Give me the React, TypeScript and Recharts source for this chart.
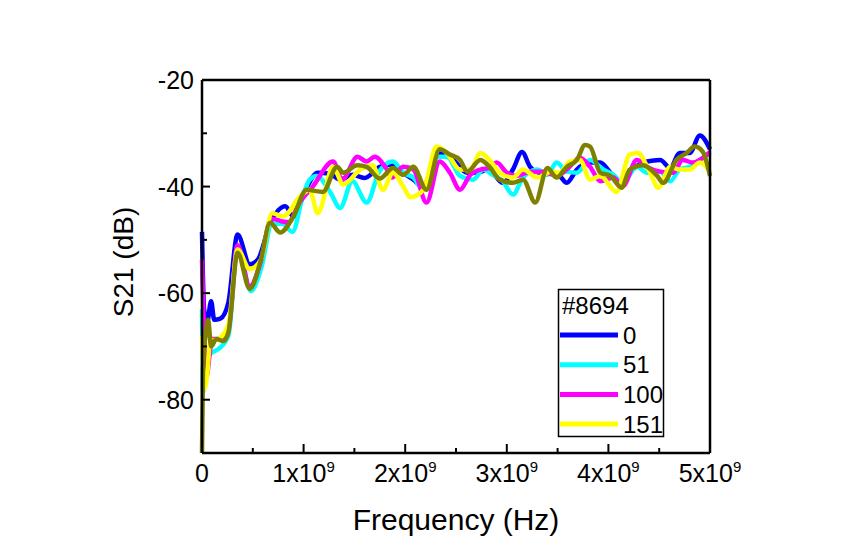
import React from 'react';
import { LineChart, Line, XAxis, YAxis, Label } from 'recharts';

// frequency in GHz, S21 in dB
const s0: [number, number][] = [
  [0, -48.5], [0.02, -63], [0.05, -65.5], [0.09, -61.5], [0.12, -65], [0.18, -64.8], [0.26, -61.7],
  [0.35, -49], [0.47, -54.6], [0.55, -53.7], [0.67, -47], [0.82, -43.7], [0.9, -45.6], [1.01, -41],
  [1.14, -37.4], [1.26, -37.6], [1.36, -38.7], [1.48, -37.8], [1.6, -38.4], [1.75, -36.3], [1.88, -35.8],
  [1.98, -37.4], [2.08, -38.7], [2.18, -40], [2.31, -33.7], [2.47, -35], [2.61, -37.4], [2.71, -37.4],
  [2.81, -36.8], [2.86, -37.4], [2.96, -39.3], [3.06, -36.8], [3.15, -33.5], [3.23, -36.3], [3.33, -37.4],
  [3.43, -37.4], [3.52, -38], [3.59, -39.3], [3.69, -36.8], [3.82, -35.5], [3.92, -35.5], [4.02, -37.4],
  [4.13, -39.6], [4.24, -36.8], [4.38, -35.3], [4.51, -35], [4.61, -36.5], [4.7, -33.7], [4.8, -33.7],
  [4.9, -30.4], [5.0, -33],
];
const s51: [number, number][] = [
  [0, -63], [0.01, -78.5], [0.04, -75], [0.08, -71.4], [0.16, -70.5], [0.26, -68], [0.35, -51.2],
  [0.48, -59.6], [0.58, -55.5], [0.69, -47], [0.79, -47], [0.89, -48.5], [0.99, -42], [1.06, -38.7],
  [1.13, -38], [1.26, -41], [1.36, -44], [1.48, -39], [1.62, -43], [1.75, -37], [1.88, -35.3],
  [1.98, -37.4], [2.08, -38.3], [2.18, -40.6], [2.31, -34.4], [2.41, -34.4], [2.54, -38], [2.67, -38.7],
  [2.77, -36.8], [2.86, -37.8], [2.96, -39], [3.06, -41.5], [3.16, -38.3], [3.3, -36.8], [3.4, -37.8],
  [3.49, -35.5], [3.59, -37.2], [3.69, -37.4], [3.82, -35], [3.95, -36.8], [4.05, -37.8], [4.14, -39.3],
  [4.28, -36.3], [4.38, -37.4], [4.51, -37.2], [4.61, -39], [4.7, -36.8], [4.8, -36.3], [4.9, -35],
  [5.0, -33.7],
];
const s100: [number, number][] = [
  [0, -53.7], [0.02, -68], [0.04, -76], [0.1, -68.6], [0.16, -68.6], [0.26, -66.8], [0.35, -51],
  [0.47, -58.7], [0.58, -54], [0.68, -46], [0.78, -46.5], [0.85, -46.7], [0.96, -43], [1.09, -40],
  [1.29, -35.3], [1.38, -38.7], [1.53, -34.4], [1.62, -35.3], [1.7, -34.4], [1.82, -36.8], [1.87, -38.3],
  [1.98, -36.3], [2.08, -36.8], [2.21, -43], [2.34, -35.3], [2.44, -37.4], [2.54, -40.6], [2.64, -37.8],
  [2.74, -36.8], [2.83, -36.5], [2.9, -35.5], [3.0, -37.4], [3.1, -38], [3.23, -37.2], [3.36, -37.2],
  [3.49, -38], [3.59, -36.8], [3.72, -34.6], [3.82, -36.3], [3.92, -39], [4.05, -38.3], [4.14, -40],
  [4.28, -35], [4.38, -36.3], [4.51, -37.2], [4.64, -37.4], [4.73, -35], [4.83, -35.5], [4.93, -34.6],
  [5.0, -33.5],
];
const s151: [number, number][] = [
  [0, -68], [0.02, -78], [0.05, -75.5], [0.08, -69], [0.16, -68.6], [0.26, -66], [0.35, -51.8],
  [0.47, -55.5], [0.58, -53.7], [0.69, -45], [0.8, -45.6], [0.96, -42], [1.06, -40.6], [1.14, -45],
  [1.29, -36.3], [1.39, -39.6], [1.56, -36.8], [1.68, -36], [1.78, -40.6], [1.88, -37.4], [1.98, -40],
  [2.05, -42], [2.18, -40.6], [2.31, -32.5], [2.41, -33.7], [2.54, -36.8], [2.64, -36.8], [2.74, -33.7],
  [2.83, -35], [2.93, -37.4], [3.06, -38.3], [3.16, -36.8], [3.3, -38.3], [3.43, -37.2], [3.52, -37.4],
  [3.62, -35.3], [3.72, -35], [3.82, -38.7], [3.92, -38], [4.08, -41], [4.21, -34], [4.29, -33.7],
  [4.41, -37.4], [4.49, -40.2], [4.61, -36.3], [4.7, -36.8], [4.8, -36.8], [4.9, -35.5], [5.0, -37.2],
];
const s200: [number, number][] = [
  [0, -90], [0.01, -74.4], [0.04, -67], [0.06, -65], [0.09, -70], [0.14, -68.6], [0.21, -69],
  [0.26, -67.3], [0.35, -52.4], [0.47, -59.2], [0.58, -53.7], [0.67, -46.8], [0.77, -48.6], [0.9, -45.6],
  [1.03, -40.6], [1.19, -41], [1.33, -36.3], [1.39, -37.4], [1.53, -36], [1.62, -36.3], [1.75, -38.5],
  [1.88, -36.5], [1.98, -37.8], [2.08, -36.3], [2.21, -40.6], [2.34, -33], [2.44, -34], [2.54, -35],
  [2.61, -37.2], [2.74, -35], [2.83, -36.3], [2.93, -38.7], [3.06, -39.3], [3.16, -38.7], [3.28, -43],
  [3.4, -36.5], [3.49, -38.3], [3.59, -36.3], [3.69, -35], [3.77, -32.2], [3.82, -32.5], [3.92, -37.4],
  [4.02, -38], [4.13, -40.2], [4.21, -36.8], [4.34, -36], [4.48, -38], [4.54, -39.3], [4.67, -35],
  [4.77, -33.7], [4.85, -32.5], [4.93, -33.5], [5.0, -38],
];

const xTicks = [0, 0.5, 1, 1.5, 2, 2.5, 3, 3.5, 4, 4.5, 5];
const yTicks = [-90, -80, -70, -60, -50, -40, -30, -20];
const legendTitle = '#8694';

const series = [
  { name: '0', data: s0, color: '#0000FF', legend: true },
  { name: '51', data: s51, color: '#00FFFF', legend: true },
  { name: '100', data: s100, color: '#FF00FF', legend: true },
  { name: '151', data: s151, color: '#FFFF00', legend: true },
  { name: '200', data: s200, color: '#808000', legend: false },
];

const FONT = '"Liberation Sans", Arial, sans-serif';
const axisLine = { stroke: '#000', strokeWidth: 2.5 };

const LeftTick = ({ x, y, payload }: any) => {
  const major = payload.value % 20 === 0;
  return (
    <g>
      <line x1={x} x2={x + (major ? 8 : 5)} y1={y} y2={y} stroke="#000" strokeWidth={2} />
      {major && (
        <text x={x - 8} y={y + 9} textAnchor="end" fontSize={25} fill="#000">{payload.value}</text>
      )}
    </g>
  );
};

const RightTick = ({ x, y, payload }: any) => {
  const major = payload.value % 20 === 0;
  return (
    <g>
      <line x1={x - (major ? 8 : 5)} x2={x} y1={y} y2={y} stroke="#000" strokeWidth={2} />
      {major && (
        <text x={x + 8} y={y + 5} textAnchor="start" fontSize={15} fill="#000">{payload.value}</text>
      )}
    </g>
  );
};

const BottomTick = ({ x, y, payload }: any) => {
  const v = payload.value;
  const major = Number.isInteger(v);
  return (
    <g>
      <line x1={x} x2={x} y1={y - (major ? 9 : 5)} y2={y} stroke="#000" strokeWidth={2} />
      {major && (
        <text x={x} y={y + 29} textAnchor="middle" fontSize={25} fill="#000">
          {v === 0 ? '0' : (
            <>
              <tspan>{`${v}x10`}</tspan>
              <tspan dy={-10} fontSize={15}>9</tspan>
            </>
          )}
        </text>
      )}
    </g>
  );
};

const TopTick = ({ x, y, payload }: any) => {
  const major = Number.isInteger(payload.value);
  return <line x1={x} x2={x} y1={y} y2={y + (major ? 9 : 5)} stroke="#000" strokeWidth={2} />;
};

export default function App() {
  const lines = series.map((s) => ({ ...s, rows: s.data.map(([f, v]) => ({ f, v })) }));
  return (
    <div style={{ position: 'relative', width: 849, height: 543, fontFamily: FONT }}>
      <LineChart
        width={849}
        height={543}
        margin={{ top: 62, right: 97, bottom: 58, left: 104 }}
        style={{ fontFamily: FONT }}
      >
        <XAxis
          dataKey="f"
          type="number"
          domain={[0, 5]}
          ticks={xTicks}
          interval={0}
          height={40}
          tickSize={0}
          tickMargin={0}
          tickLine={false}
          axisLine={axisLine}
          tick={<BottomTick />}
          allowDuplicatedCategory={false}
        >
          <Label
            content={() => (
              <text x={448} y={522} textAnchor="middle" fontSize={30} fill="#000" fontFamily={FONT}>
                Frequency (Hz)
              </text>
            )}
          />
        </XAxis>
        <XAxis
          xAxisId="top"
          orientation="top"
          dataKey="f"
          type="number"
          domain={[0, 5]}
          ticks={xTicks}
          interval={0}
          height={10}
          tickSize={0}
          tickMargin={0}
          tickLine={false}
          axisLine={axisLine}
          tick={<TopTick />}
        />
        <YAxis
          type="number"
          domain={[-90, -20]}
          ticks={yTicks}
          interval={0}
          width={90}
          tickSize={0}
          tickMargin={0}
          tickLine={false}
          axisLine={axisLine}
          tick={<LeftTick />}
        >
          <Label
            content={() => (
              <text
                x={0}
                y={0}
                transform="translate(125,254) rotate(-90)"
                textAnchor="middle"
                fontSize={28}
                fill="#000"
                fontFamily={FONT}
              >
                S21 (dB)
              </text>
            )}
          />
        </YAxis>
        <YAxis
          yAxisId="right"
          orientation="right"
          type="number"
          domain={[-90, -20]}
          ticks={yTicks}
          interval={0}
          width={50}
          tickSize={0}
          tickMargin={0}
          tickLine={false}
          axisLine={axisLine}
          tick={<RightTick />}
        />
        {lines.map((s) => (
          <Line
            key={s.name}
            data={s.rows}
            dataKey="v"
            name={s.name}
            type="monotone"
            stroke={s.color}
            strokeWidth={4.5}
            dot={false}
            activeDot={false}
            isAnimationActive={false}
          />
        ))}
      </LineChart>
      <svg
        width={108}
        height={151}
        style={{ position: 'absolute', left: 549, top: 280, fontFamily: FONT }}
      >
        <rect x={1.5} y={1.5} width={105} height={147} fill="#fff" stroke="#000" strokeWidth={1.5} />
        <text x={5} y={26} fontSize={24} fill="#000">{legendTitle}</text>
        {series.filter((s) => s.legend).map((s, i) => {
          const cy = 47 + i * 29.7;
          return (
            <g key={s.name}>
              <line x1={3} x2={61} y1={cy} y2={cy} stroke={s.color} strokeWidth={5} />
              <text x={66} y={cy + 8.5} fontSize={24} fill="#000">{s.name}</text>
            </g>
          );
        })}
      </svg>
    </div>
  );
}
